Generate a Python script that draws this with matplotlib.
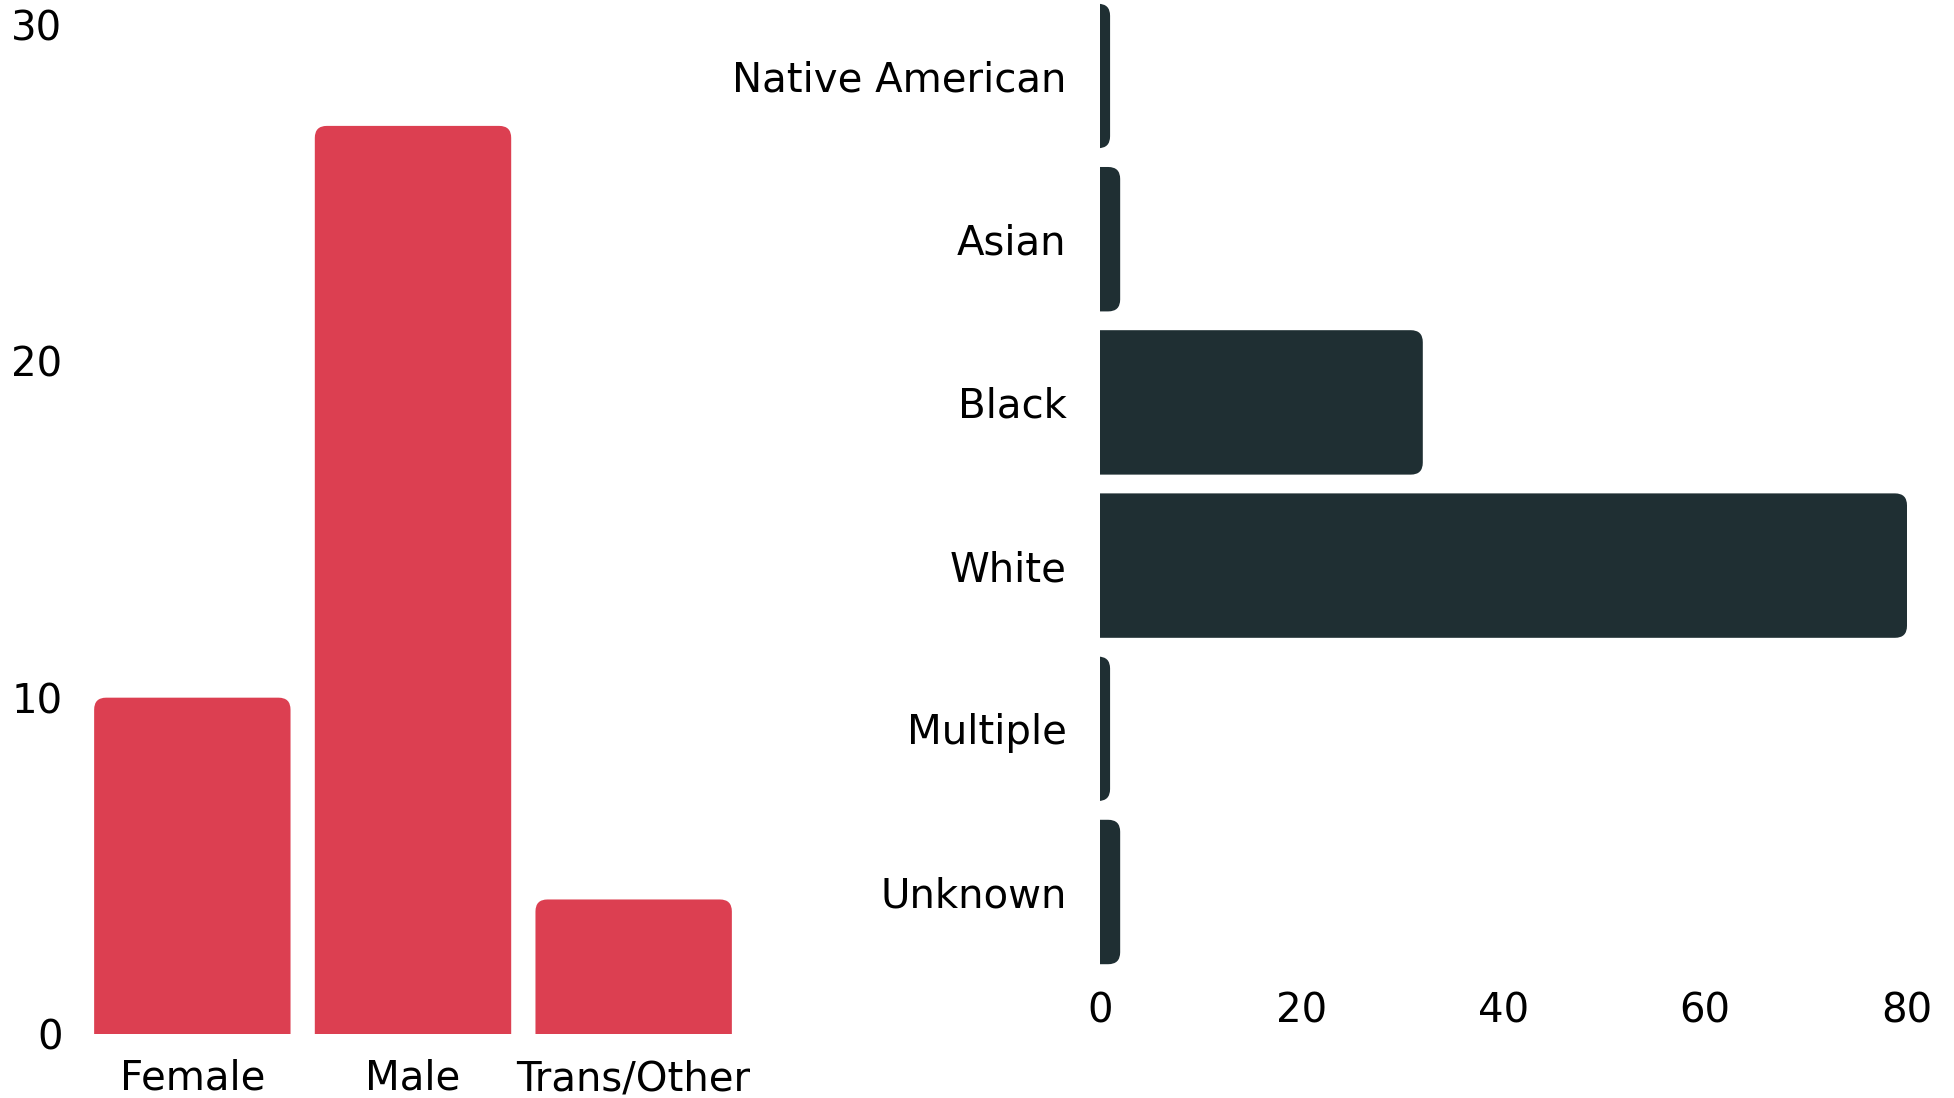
import matplotlib
matplotlib.use("Agg")
import matplotlib.pyplot as plt
from matplotlib.patches import FancyBboxPatch

GENDER = ["Female", "Male", "Trans/Other"]
GENDER_COUNTS = [10, 27, 4]
RACE = ["Native American", "Asian", "Black", "White", "Multiple", "Unknown"]
RACE_COUNTS = [1, 2, 32, 80, 1, 2]

RED = "#dc3f51"
DARK = "#1f2f33"
W, H, DPI = 1954, 1098, 100

plt.rcParams["font.family"] = ["DejaVu Sans"]
plt.rcParams["font.size"] = 29

fig = plt.figure(figsize=(W / DPI, H / DPI), dpi=DPI)

# axes rectangles in pixels (left, top, right, bottom)
def px_axes(l, t, r, b):
    return fig.add_axes([l / W, 1 - b / H, (r - l) / W, (b - t) / H])

ax1 = px_axes(82, 25, 744, 1034)
ax2 = px_axes(1100, -5.6, 1907, 973.6)

RADIUS_PX = 12


def rounded_vbar(ax, x, h, width, color):
    # extends below zero so only the top corners stay round (ylim clips the rest)
    x0, x1 = ax.get_xlim()
    y0, y1 = ax.get_ylim()
    bb = ax.get_window_extent()
    ux = (x1 - x0) / bb.width
    uy = (y1 - y0) / bb.height
    r = RADIUS_PX * ux
    p = FancyBboxPatch((x - width / 2, -5), width, h + 5,
                       boxstyle=f"round,pad=0,rounding_size={r}",
                       mutation_aspect=uy / ux, fc=color, ec="none")
    ax.add_patch(p)


def rounded_hbar(ax, y, w, height, color):
    x0, x1 = ax.get_xlim()
    y0, y1 = ax.get_ylim()
    bb = ax.get_window_extent()
    ux = (x1 - x0) / bb.width
    uy = abs(y1 - y0) / bb.height
    r = RADIUS_PX * ux
    rr = min(r, (w + 3) / 2)
    p = FancyBboxPatch((-3, y - height / 2), w + 3, height,
                       boxstyle=f"round,pad=0,rounding_size={rr}",
                       mutation_aspect=uy / ux, fc=color, ec="none")
    ax.add_patch(p)


# gender chart
ax1.set_xlim(-0.5, len(GENDER) - 0.5)
ax1.set_ylim(0, 30)
for i, v in enumerate(GENDER_COUNTS):
    rounded_vbar(ax1, i, v, 0.89, RED)
ax1.set_xticks(range(len(GENDER)), GENDER)
ax1.set_yticks([0, 10, 20, 30])
ax1.tick_params(axis="both", length=0)
ax1.tick_params(axis="y", pad=14)
ax1.tick_params(axis="x", pad=18)

# race chart
ax2.set_xlim(0, 80)
ax2.set_ylim(len(RACE) - 0.5, -0.5)
for i, v in enumerate(RACE_COUNTS):
    rounded_hbar(ax2, i, v, 0.885, DARK)
ax2.set_yticks(range(len(RACE)), RACE)
ax2.set_xticks([0, 20, 40, 60, 80])
ax2.tick_params(axis="both", length=0)
ax2.tick_params(axis="y", pad=24)
ax2.tick_params(axis="x", pad=13)

for ax in (ax1, ax2):
    for s in ax.spines.values():
        s.set_visible(False)
    ax.set_facecolor("none")

fig.savefig("out.png", dpi=DPI, facecolor="white")
